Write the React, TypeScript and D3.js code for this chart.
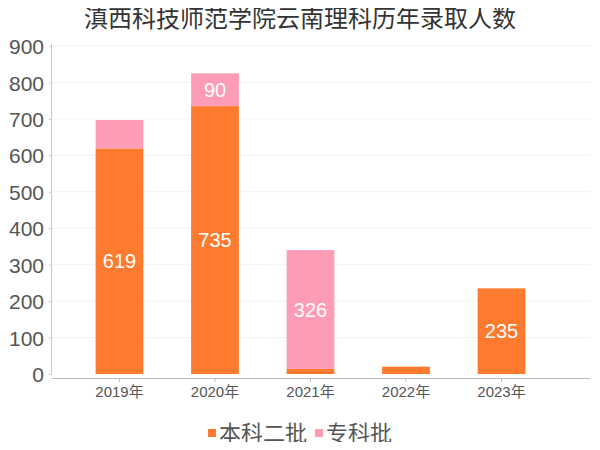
import { useEffect, useRef } from 'react';
import * as d3 from 'd3';

const years = ['2019年', '2020年', '2021年', '2022年', '2023年'];
const benke = [619, 735, 14, 20, 235];
const zhuanke = [78, 90, 326, 0, 0];
const yTicks = [0, 100, 200, 300, 400, 500, 600, 700, 800, 900];
const seriesNames = ['本科二批', '专科批'];
const colors = ['#fe7a2f', '#fe9cb6'];

const FONT = '"Noto Sans CJK SC", "Noto Sans", sans-serif';
const NUM_FONT = '"Liberation Sans", "Noto Sans CJK SC", sans-serif';

export default function App() {
  const svgRef = useRef<SVGSVGElement>(null);

  useEffect(() => {
    const svg = d3.select(svgRef.current);
    svg.selectAll('*').remove();

    const W = 600;
    const H = 450;
    const left = 52;
    const right = 590;
    const top = 46;
    const bottom = 374;

    const x = d3.scaleBand<string>().domain(years).range([71.75, 549.25]).paddingInner(0.5).paddingOuter(0.25);
    const y = d3.scaleLinear().domain([0, 900]).range([bottom, top]);

    svg.attr('width', W).attr('height', H).attr('viewBox', `0 0 ${W} ${H}`).style('font-family', FONT);

    // title
    svg.append('text')
      .attr('x', 300)
      .attr('y', 27)
      .attr('text-anchor', 'middle')
      .attr('font-size', 24)
      .attr('fill', '#333')
      .text('滇西科技师范学院云南理科历年录取人数');

    // grid
    svg.append('g')
      .selectAll('line')
      .data(yTicks.slice(1))
      .join('line')
      .attr('x1', left)
      .attr('x2', right)
      .attr('y1', d => y(d))
      .attr('y2', d => y(d))
      .attr('stroke', '#f2f2f2')
      .attr('stroke-width', 1);

    // y axis
    const yAxis = d3.axisLeft(y).tickValues(yTicks).tickSize(3).tickPadding(5);
    const gy = svg.append('g').attr('transform', `translate(${left},0)`).call(yAxis);
    gy.select('.domain').attr('stroke', '#c8c8c8').attr('d', `M-0.5,${top - 2}V${bottom + 1}`);
    gy.selectAll('.tick line').attr('stroke', '#c8c8c8');
    gy.selectAll('.tick text').attr('fill', '#555').attr('font-size', 21).attr('font-family', NUM_FONT).attr('dy', '0.36em');

    // stacked bars
    const stack = years.map((yr, i) => ({ yr, b: benke[i], z: zhuanke[i] }));
    const bw = x.bandwidth();

    const gb = svg.append('g');
    stack.forEach(d => {
      const x0 = x(d.yr)!;
      if (d.b > 0) {
        gb.append('rect')
          .attr('x', x0).attr('width', bw)
          .attr('y', y(d.b)).attr('height', y(0) - y(d.b))
          .attr('fill', colors[0]);
      }
      if (d.z > 0) {
        gb.append('rect')
          .attr('x', x0).attr('width', bw)
          .attr('y', y(d.b + d.z)).attr('height', y(d.b) - y(d.b + d.z))
          .attr('fill', colors[1]);
      }
      const labels = [
        { v: d.b, cy: (y(0) + y(d.b)) / 2 },
        { v: d.z, cy: (y(d.b) + y(d.b + d.z)) / 2 },
      ];
      labels.filter(l => l.v >= 85).forEach(l => {
        gb.append('text')
          .attr('x', x0 + bw / 2)
          .attr('y', l.cy)
          .attr('dy', '0.36em')
          .attr('text-anchor', 'middle')
          .attr('fill', '#fff')
          .attr('font-size', 20)
          .attr('font-family', NUM_FONT)
          .text(l.v);
      });
    });

    // x axis
    const xAxis = d3.axisBottom(x).tickSize(4).tickPadding(4);
    const gx = svg.append('g').attr('transform', `translate(0,${bottom + 4})`).call(xAxis);
    gx.select('.domain').attr('stroke', '#bdbdbd').attr('d', `M${left},0.5H${right}`);
    gx.selectAll('.tick line').attr('stroke', '#bdbdbd');
    gx.selectAll('.tick text').attr('fill', '#555').attr('font-size', 15).attr('font-family', NUM_FONT);

    // legend
    const legend = svg.append('g').attr('transform', 'translate(208,433)');
    const items = [
      { name: seriesNames[0], color: colors[0], dx: 0 },
      { name: seriesNames[1], color: colors[1], dx: 107 },
    ];
    items.forEach(it => {
      const g = legend.append('g').attr('transform', `translate(${it.dx},0)`);
      g.append('rect').attr('x', 0).attr('y', -4).attr('width', 8).attr('height', 8).attr('fill', it.color);
      g.append('text')
        .attr('x', 11)
        .attr('y', 0)
        .attr('dy', '0.36em')
        .attr('font-size', 22)
        .attr('fill', '#555')
        .text(it.name);
    });
  }, []);

  return (
    <div style={{ margin: -8 }}>
      <svg ref={svgRef} style={{ display: 'block' }} />
    </div>
  );
}
